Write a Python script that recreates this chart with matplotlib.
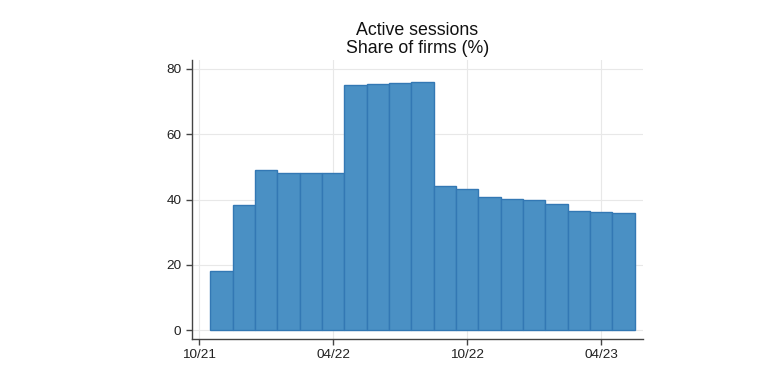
import matplotlib
matplotlib.use('Agg')
import matplotlib.pyplot as plt

plt.rcParams['font.family'] = ['Liberation Sans', 'DejaVu Sans']

# monthly share of firms with active sessions, 11/21 .. 05/23
months = ['11/21', '12/21', '01/22', '02/22', '03/22', '04/22', '05/22', '06/22',
          '07/22', '08/22', '09/22', '10/22', '11/22', '12/22', '01/23', '02/23',
          '03/23', '04/23', '05/23']
share = [18.1, 38.3, 49.0, 48.0, 48.0, 48.0, 75.2, 75.5, 75.8, 76.1,
         44.2, 43.1, 40.9, 40.2, 39.8, 38.7, 36.5, 36.2, 35.9]
tick_labels = ['10/21', '04/22', '10/22', '04/23']

fig = plt.figure(figsize=(7.83, 3.67), dpi=100)
ax = fig.add_axes([0.2448, 0.0763, 0.576, 0.7602])

x = list(range(1, len(months) + 1))   # month index, 10/21 = 0
ax.bar(x, share, width=1.0, color='#4a90c4', edgecolor='#3378b4', linewidth=1.0, zorder=3)

ax.set_xlim(-0.34, 19.86)
ax.set_ylim(-2.7, 82.7)
ax.set_xticks([0, 6, 12, 18])
ax.set_xticklabels(tick_labels)
ax.set_yticks([0, 20, 40, 60, 80])

ax.grid(True, color='#e8e8e8', linewidth=0.8, zorder=0)
for s in ['top', 'right']:
    ax.spines[s].set_visible(False)
for s in ['left', 'bottom']:
    ax.spines[s].set_color('#444444')
    ax.spines[s].set_linewidth(1.0)
ax.tick_params(colors='#444444', labelcolor='#222222', labelsize=9.7, length=4, width=1.0)

ax.set_title('Active sessions\nShare of firms (%)', fontsize=12.8, color='#111111',
             linespacing=1.05, pad=5)

fig.savefig('out.png', dpi=100)
